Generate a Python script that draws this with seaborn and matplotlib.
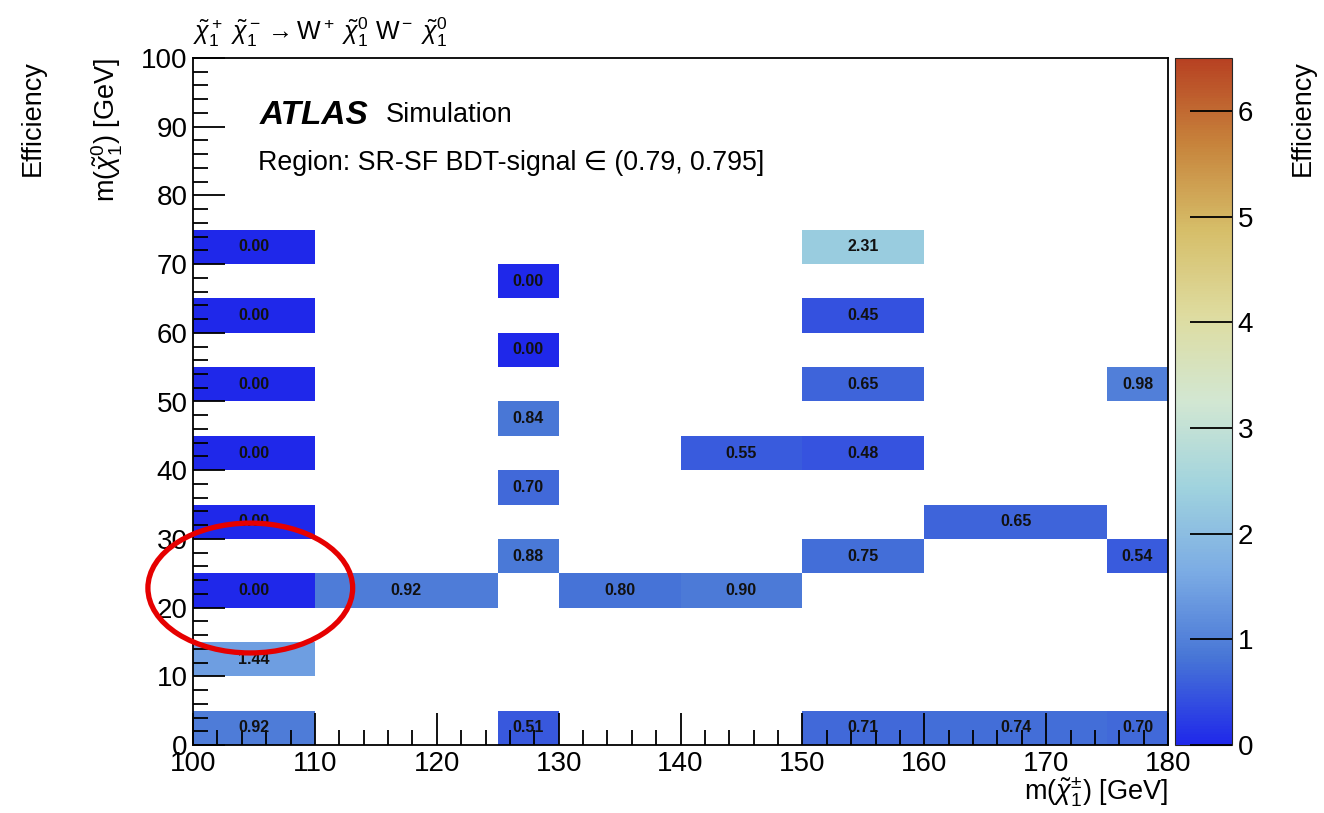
import numpy as np
import pandas as pd
import matplotlib
matplotlib.use("Agg")
import matplotlib.pyplot as plt
import seaborn as sns
from matplotlib.patches import Ellipse

# cells of the 2D efficiency map (chargino mass range, neutralino mass bin, efficiency)
cell_x_low = [100, 100, 100, 100, 100, 100, 100, 100,
              110,
              125, 125, 125, 125, 125, 125,
              130,
              140, 140,
              150, 150, 150, 150, 150, 150,
              160, 160,
              175, 175, 175]
cell_x_high = [110, 110, 110, 110, 110, 110, 110, 110,
               125,
               130, 130, 130, 130, 130, 130,
               140,
               150, 150,
               160, 160, 160, 160, 160, 160,
               175, 175,
               180, 180, 180]
cell_y_low = [0, 10, 20, 30, 40, 50, 60, 70,
              20,
              0, 25, 35, 45, 55, 65,
              20,
              20, 40,
              0, 25, 40, 50, 60, 70,
              0, 30,
              0, 25, 50]
efficiency = [0.92, 1.44, 0.00, 0.00, 0.00, 0.00, 0.00, 0.00,
              0.92,
              0.51, 0.88, 0.70, 0.84, 0.00, 0.00,
              0.80,
              0.90, 0.55,
              0.71, 0.75, 0.48, 0.65, 0.45, 2.31,
              0.74, 0.65,
              0.70, 0.54, 0.98]

x_min, x_max, x_step = 100, 180, 2.5
y_min, y_max, y_step = 0, 100, 5
z_max = 6.5

df = pd.DataFrame({"xlo": cell_x_low, "xhi": cell_x_high, "ylo": cell_y_low, "eff": efficiency})

# fill a fine regular grid so seaborn's heatmap can draw the variable-width bins
nx = int((x_max - x_min) / x_step)
ny = int((y_max - y_min) / y_step)
grid = np.full((ny, nx), np.nan)
for _, r in df.iterrows():
    i0 = int((r.xlo - x_min) / x_step)
    i1 = int((r.xhi - x_min) / x_step)
    j = int((r.ylo - y_min) / y_step)
    grid[j, i0:i1] = r.eff

def gx(v):
    return (v - x_min) / x_step

def gy(v):
    return (v - y_min) / y_step

# ROOT kLightTemperature palette
light_temp = ["#1f28ea", "#4775d6", "#7babe4", "#a0d3de", "#d2e7d2",
              "#dedca0", "#d6be69", "#c7843c", "#b74122"]
cmap = sns.blend_palette(light_temp, as_cmap=True)

sns.set_style("white")
plt.rcParams["font.family"] = ["Liberation Sans", "DejaVu Sans"]
plt.rcParams["mathtext.fontset"] = "custom"
plt.rcParams["mathtext.rm"] = "Liberation Sans"
plt.rcParams["mathtext.it"] = "Liberation Sans:italic"
plt.rcParams["mathtext.bf"] = "Liberation Sans:bold"
plt.rcParams["text.color"] = "black"
plt.rcParams["xtick.color"] = "black"
plt.rcParams["ytick.color"] = "black"

fig = plt.figure(figsize=(13.24, 8.13), dpi=100)
ax = fig.add_axes([193 / 1324, 1 - 745 / 813, 975 / 1324, 687 / 813])
cax = fig.add_axes([1175 / 1324, 1 - 745 / 813, 57 / 1324, 687 / 813])

sns.heatmap(grid, mask=np.isnan(grid), cmap=cmap, vmin=0, vmax=z_max,
            ax=ax, cbar_ax=cax, xticklabels=False, yticklabels=False)

ax.set_xlim(0, nx)
ax.set_ylim(0, ny)
ax.set_axisbelow(False)
cax.set_axisbelow(False)
for s in ax.spines.values():
    s.set_visible(True)
    s.set_linewidth(1.3)
    s.set_color("black")
    s.set_zorder(4)

# axis ticks in physical units
xt = np.arange(x_min, x_max + 1, 10)
yt = np.arange(y_min, y_max + 1, 10)
ax.set_xticks(gx(xt))
ax.set_xticklabels([str(v) for v in xt])
ax.set_xticks(gx(np.arange(x_min, x_max + 0.1, 2)), minor=True)
ax.set_yticks(gy(yt))
ax.set_yticklabels([str(v) for v in yt], rotation=0)
ax.set_yticks(gy(np.arange(y_min, y_max + 0.1, 2)), minor=True)
ax.tick_params(which="both", direction="in", labelsize=20, color="black", labelcolor="black",
               width=1.3, bottom=True, left=True, top=False, right=False)
ax.tick_params(which="major", length=23, pad=4)
ax.tick_params(which="minor", length=11)
ax.set_xlabel("")
ax.set_ylabel("")

# bin contents
for _, r in df.iterrows():
    ax.text(gx((r.xlo + r.xhi) / 2), gy(r.ylo + y_step / 2), f"{r.eff:.2f}",
            ha="center", va="center", fontsize=11.5, fontweight="bold", color="#111111")

# highlight ellipse
ax.add_patch(Ellipse((gx(104.7), gy(22.85)), 16.8 / x_step, 18.9 / y_step,
                     fill=False, edgecolor="#e60000", linewidth=3.8, clip_on=False, zorder=6))

# colour bar
cax.yaxis.set_ticks_position("right")
cax.set_yticks(range(0, 7))
cax.tick_params(direction="in", length=30, width=1.3, labelsize=20, color="black",
                labelcolor="black", pad=4)
cbar = ax.collections[0].colorbar
cbar.outline.set_linewidth(0.8)

# texts
fig.text(193 / 1324, 1 - 32 / 813,
         r"$\tilde{\chi}_1^+\ \tilde{\chi}_1^-\rightarrow \mathrm{W}^+\ \tilde{\chi}_1^0\ \mathrm{W}^-\ \tilde{\chi}_1^0$",
         ha="left", va="center", fontsize=18)
fig.text(260 / 1324, 1 - 115 / 813, "ATLAS", ha="left", va="center",
         fontsize=24, fontweight="bold", fontstyle="italic")
fig.text(386 / 1324, 1 - 115 / 813, "Simulation", ha="left", va="center", fontsize=19.5)
fig.text(258 / 1324, 1 - 163 / 813, "Region: SR-SF BDT-signal \u2208 (0.79, 0.795]",
         ha="left", va="center", fontsize=19.3)
fig.text(1168 / 1324, 1 - 792 / 813, r"m($\tilde{\chi}_1^{\pm}$) [GeV]",
         ha="right", va="center", fontsize=19.5)
fig.text(107 / 1324, 1 - 58 / 813, r"m($\tilde{\chi}_1^{0}$) [GeV]",
         ha="center", va="top", rotation=90, fontsize=19.5)
fig.text(33 / 1324, 1 - 60 / 813, "Efficiency", ha="center", va="top", rotation=90, fontsize=19.5)
fig.text(1303 / 1324, 1 - 60 / 813, "Efficiency", ha="center", va="top", rotation=90, fontsize=19.5)

fig.savefig("out.png", dpi=100, facecolor="white")
